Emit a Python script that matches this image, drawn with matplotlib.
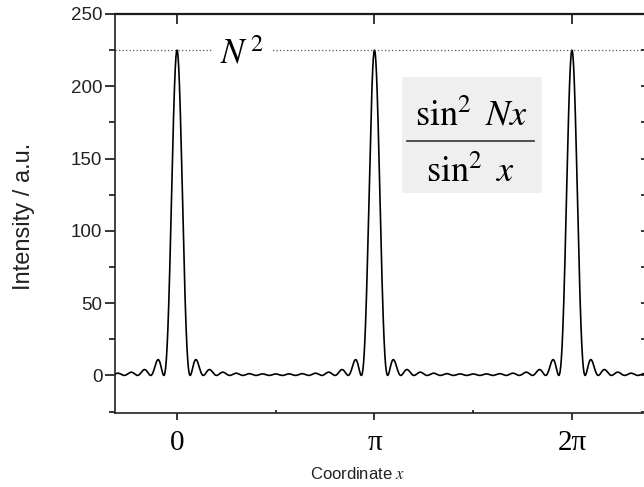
import numpy as np
import matplotlib
matplotlib.use("Agg")
import matplotlib.pyplot as plt
from matplotlib.ticker import MultipleLocator, FixedLocator

plt.rcParams['mathtext.fontset'] = 'stix'
plt.rcParams['font.family'] = ['Liberation Sans', 'DejaVu Sans']

# ---- data ----
N = 15                                   # number of slits -> peak height N^2 = 225
x_min_pi, x_max_pi = -0.314, 2.385      # plotted range in units of pi
y_limits = (-26, 250)
xtick_pos_pi = [0, 1, 2]
xtick_labels = ["0", "π", "2π"]
ytick_major = [0, 50, 100, 150, 200, 250]
peak_label = r"$N^{\,2}$"
formula_num = r"$\sin^2\ Nx$"
formula_den = r"$\sin^2\ x$"
xlabel_text = r"Coordinate $x$"
ylabel_text = "Intensity / a.u."

x = np.linspace(x_min_pi * np.pi, x_max_pi * np.pi, 6000)
s = np.sin(x)
num = np.sin(N * x)
with np.errstate(divide='ignore', invalid='ignore'):
    intensity = np.where(np.abs(s) < 1e-9, N ** 2, (num / s) ** 2)

W, H = 644, 487
fig = plt.figure(figsize=(W / 100, H / 100), dpi=100)
L, R, T, B = 115, 648, 14, 413
ax = fig.add_axes([L / W, 1 - B / H, (R - L) / W, (B - T) / H])

ax.plot(x, intensity, color='black', lw=1.2)
ax.axhline(N ** 2, color='0.35', lw=0.9, ls=(0, (1, 1.8)))

ax.set_xlim(x_min_pi * np.pi, x_max_pi * np.pi)
ax.set_ylim(*y_limits)

ax.set_xticks([p * np.pi for p in xtick_pos_pi])
ax.set_xticklabels(xtick_labels, fontfamily='Liberation Serif', fontsize=21)
ax.xaxis.set_minor_locator(FixedLocator([0.5 * np.pi, 1.5 * np.pi]))
ax.set_yticks(ytick_major)
ax.yaxis.set_minor_locator(MultipleLocator(25))
for lab in ax.get_yticklabels():
    lab.set_fontsize(13.5)
    lab.set_color('#222222')

ax.tick_params(axis='y', which='major', direction='out', length=7, width=1.1, pad=2)
ax.tick_params(axis='y', which='minor', direction='out', length=4, width=1.1)
ax.tick_params(axis='x', which='major', direction='out', length=5, width=1.1, pad=7)
ax.tick_params(axis='x', which='minor', direction='in', length=2, width=1.1)
for sp in ax.spines.values():
    sp.set_linewidth(1.2)
    sp.set_color('#222222')

# mirrored ticks (top / right), inward
top = ax.secondary_xaxis('top')
top.set_xticks([p * np.pi for p in xtick_pos_pi])
top.tick_params(direction='in', length=7, width=1.1, labeltop=False)
top.spines['top'].set_linewidth(1.6)
right = ax.secondary_yaxis('right')
right.yaxis.set_major_locator(MultipleLocator(25))
right.tick_params(direction='in', length=5, width=1.1, labelright=False)

# N^2 label over dotted line
ax.text(0.22 * np.pi, 216, peak_label, fontsize=25, va='baseline', ha='left',
        bbox=dict(facecolor='white', edgecolor='none', boxstyle='square,pad=0.25'))

# formula box
def fx(px):
    return px / W
def fy(py):
    return 1 - py / H

fig.patches.append(plt.Rectangle((fx(402), fy(193)), fx(542) - fx(402), fy(77) - fy(193),
                                 transform=fig.transFigure, facecolor='#efefef',
                                 edgecolor='none', zorder=3))
fig.text(fx(471), fy(126), formula_num, fontsize=26, ha='center', va='baseline', zorder=4)
fig.text(fx(470), fy(182), formula_den, fontsize=26, ha='center', va='baseline', zorder=4)
fig.add_artist(plt.Line2D([fx(407), fx(534)], [fy(141), fy(141)], transform=fig.transFigure,
                          color='#333333', lw=1.2, zorder=4))

fig.text(fx(358), fy(474), xlabel_text, fontsize=12, ha='center', va='center', color='#222222')
fig.text(fx(24), fy(216), ylabel_text, fontsize=17, ha='center', va='center', rotation=90,
         color='#222222')

fig.savefig('out.png', dpi=100)
